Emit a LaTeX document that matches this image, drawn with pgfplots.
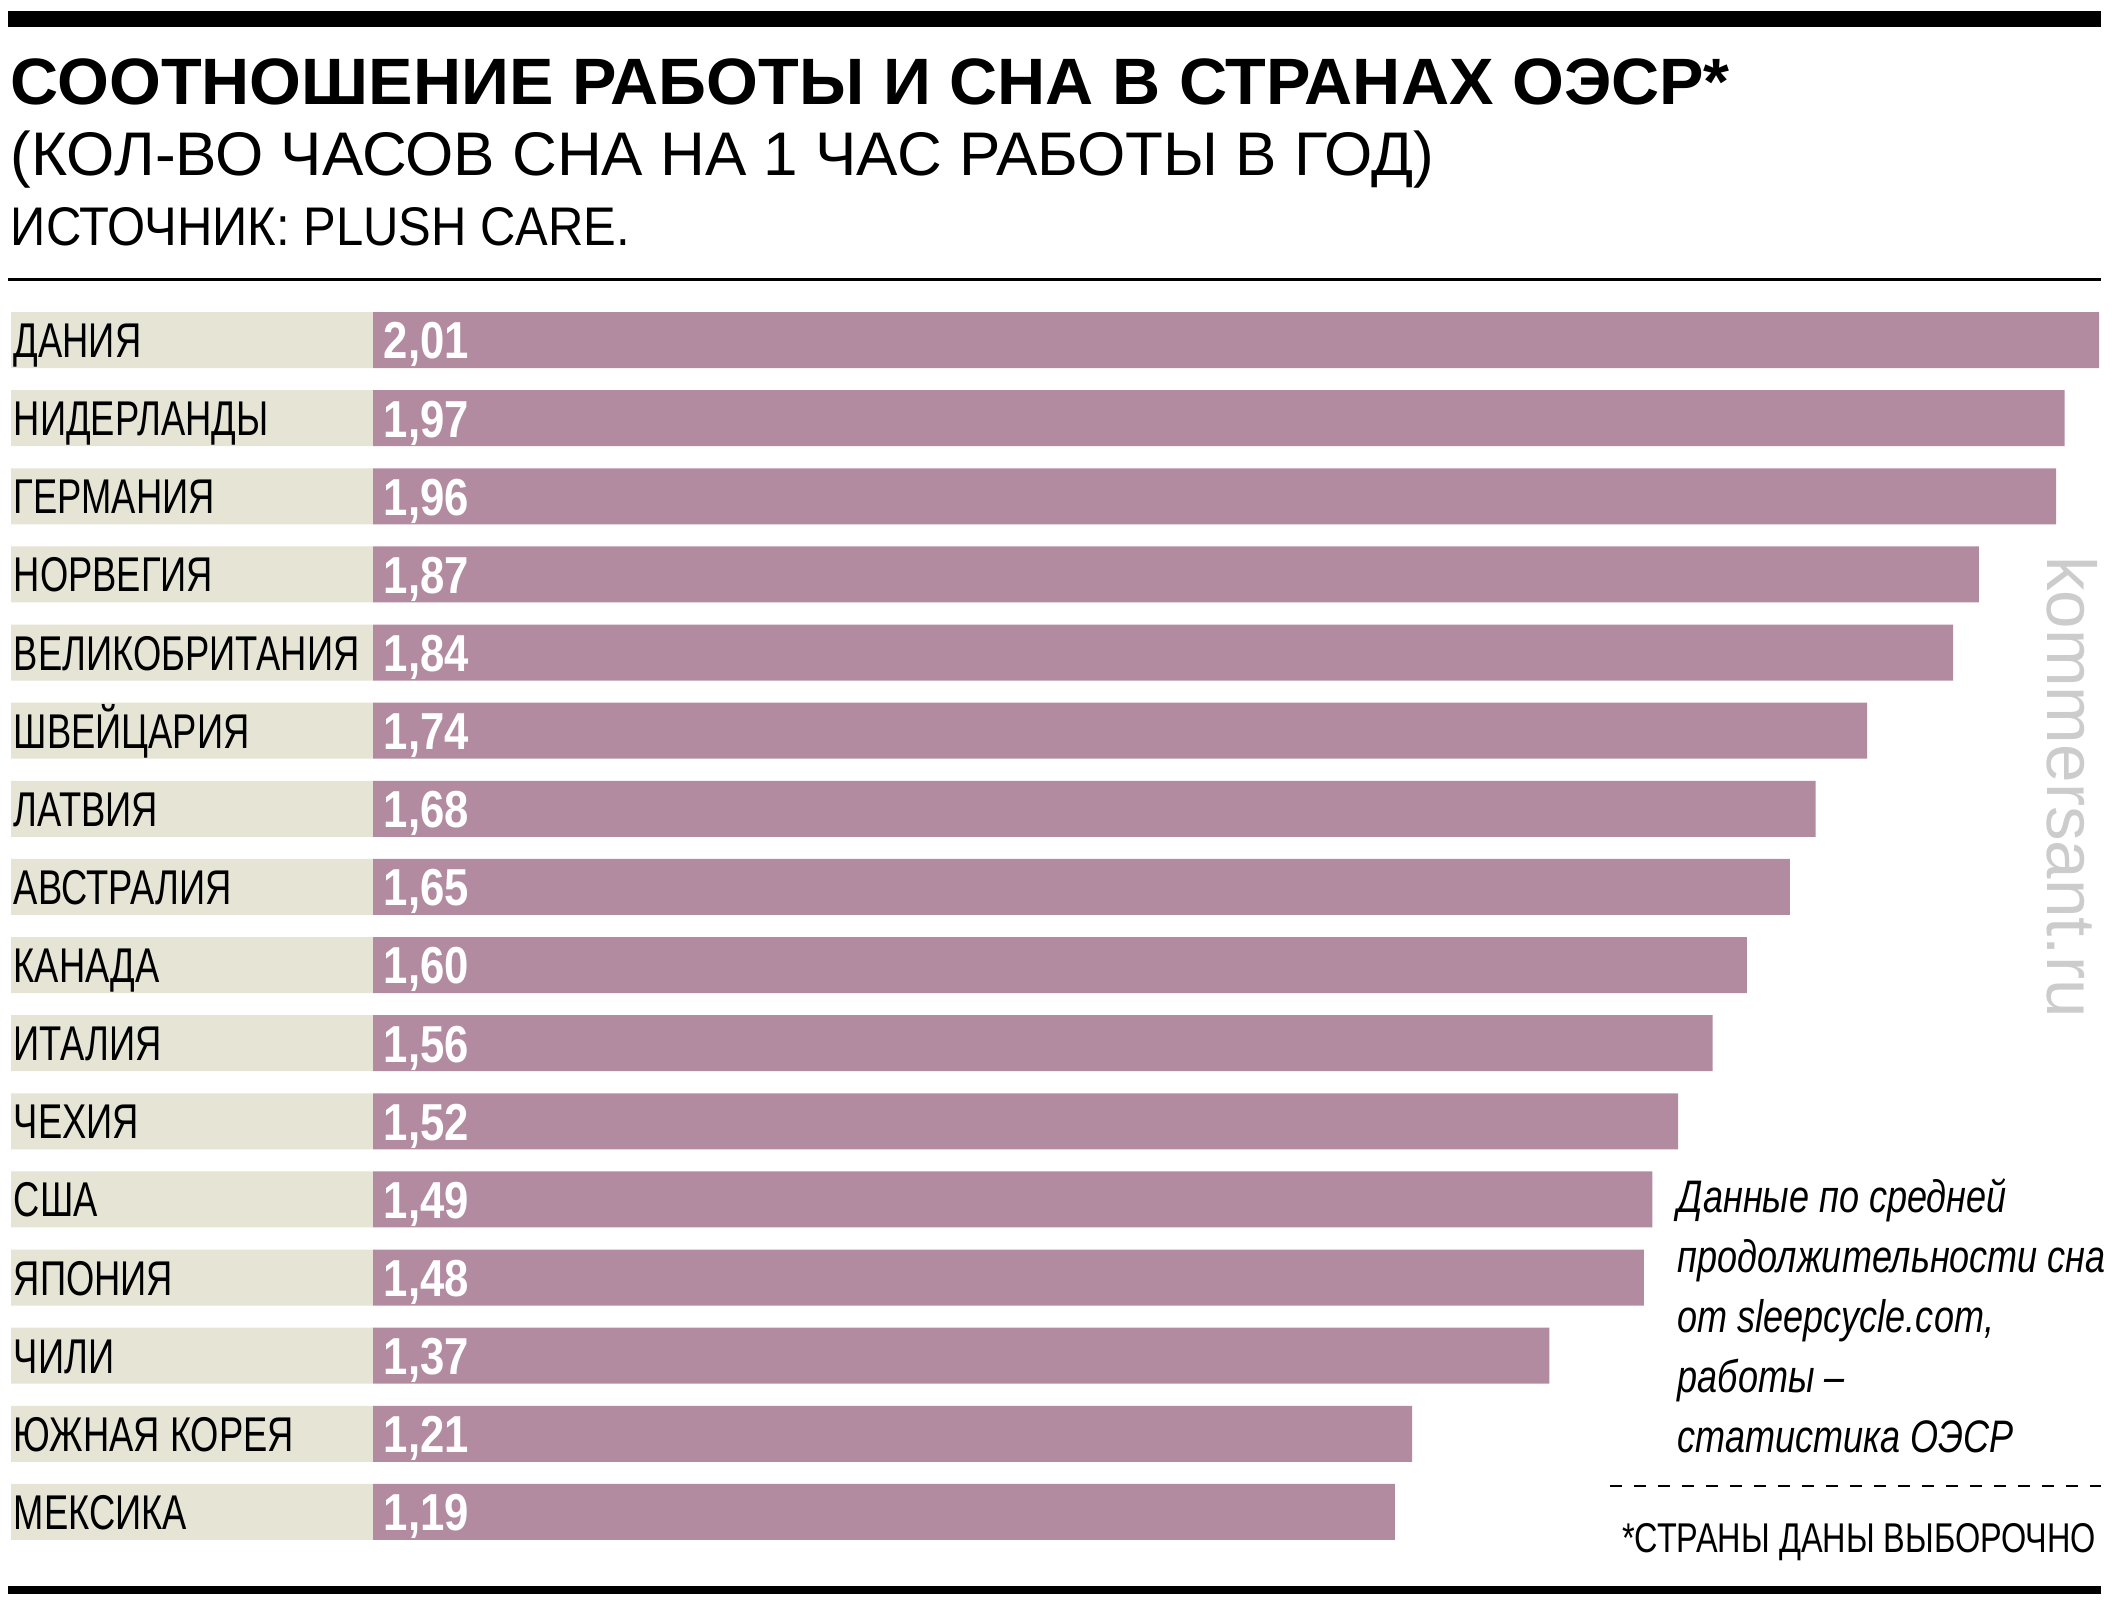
\documentclass[border=0pt]{standalone}
\usepackage{fontspec}
\setmainfont{Liberation Sans}
\newfontfamily\labfont[FakeStretch=0.745]{Liberation Sans}
\newfontfamily\valfont[FakeStretch=0.84]{Liberation Sans}
\newfontfamily\titfont[FakeStretch=1.016]{Liberation Sans}
\newfontfamily\subfont[FakeStretch=1.007]{Liberation Sans}
\newfontfamily\srcfont[FakeStretch=0.9]{Liberation Sans}
\newfontfamily\notefont[FakeStretch=0.79]{Liberation Sans}
\newfontfamily\footfont[FakeStretch=0.78]{Liberation Sans}
\usepackage{pgfplots}
\pgfplotsset{compat=1.18}
\usepackage{pgfplotstable}
\definecolor{barc}{RGB}{179,139,161}
\definecolor{beige}{RGB}{230,228,212}
\definecolor{wm}{RGB}{204,204,204}
\pgfplotstableread[col sep=semicolon]{
idx;val;name
0;2.01;ДАНИЯ
1;1.97;НИДЕРЛАНДЫ
2;1.96;ГЕРМАНИЯ
3;1.87;НОРВЕГИЯ
4;1.84;ВЕЛИКОБРИТАНИЯ
5;1.74;ШВЕЙЦАРИЯ
6;1.68;ЛАТВИЯ
7;1.65;АВСТРАЛИЯ
8;1.60;КАНАДА
9;1.56;ИТАЛИЯ
10;1.52;ЧЕХИЯ
11;1.49;США
12;1.48;ЯПОНИЯ
13;1.37;ЧИЛИ
14;1.21;ЮЖНАЯ КОРЕЯ
15;1.19;МЕКСИКА
}\data
\begin{document}
\begin{tikzpicture}
\path[use as bounding box] (0,0) rectangle (528pt,-401.5pt);
\fill[black] (2pt,-2.75pt) rectangle (525.25pt,-6.75pt);
\node[anchor=base west, inner sep=0] at (2.5pt,-26.25pt) {\fontsize{16.4}{18}\titfont\bfseries СООТНОШЕНИЕ РАБОТЫ И СНА В СТРАНАХ ОЭСР*};
\node[anchor=base west, inner sep=0] at (2.5pt,-43.75pt) {\fontsize{15.4}{18}\subfont (КОЛ-ВО ЧАСОВ СНА НА 1 ЧАС РАБОТЫ В ГОД)};
\node[anchor=base west, inner sep=0] at (2.5pt,-61.25pt) {\fontsize{13.6}{16}\srcfont ИСТОЧНИК: PLUSH CARE.};
\draw[line width=0.75pt] (2pt,-69.75pt) -- (525.25pt,-69.75pt);
\begin{axis}[at={(2.75pt,-75.25pt)}, anchor=north west, scale only axis,
  width=522pt, height=312.5pt, xmin=-0.4216, xmax=2.01, ymin=-0.5, ymax=15.5,
  y dir=reverse, hide axis, clip=false,
  /pgf/number format/assume math mode=true]
\addplot[xbar, bar width=14pt, bar shift=0pt, fill=beige, draw=none] table[x expr=-0.4216, y=idx]{\data};
\addplot[xbar, bar width=14pt, bar shift=0pt, fill=barc, draw=none] table[x=val, y=idx]{\data};
\addplot[draw=none, mark=none, nodes near coords, point meta=explicit symbolic,
  every node near coord/.append style={anchor=west, inner sep=0pt, xshift=0.5pt, text=black,
    font=\fontsize{12.2}{12.2}\labfont, text height=8.75pt, text depth=0pt}]
  table[x expr=-0.4216, y=idx, meta=name]{\data};
\addplot[draw=none, mark=none,
  nodes near coords={\pgfmathprintnumber[fixed,fixed zerofill,precision=2,use comma,assume math mode=true]{\pgfplotspointmeta}},
  point meta=\thisrow{val},
  every node near coord/.append style={anchor=west, inner sep=0pt, xshift=2.5pt, text=white,
    font=\fontsize{13}{13}\valfont\bfseries, text height=9.4pt, text depth=0pt}]
  table[x expr=0, y=idx]{\data};
\end{axis}
\node[rotate=-90, text=wm, inner sep=0, font=\fontsize{17.3}{17}\selectfont] at (518pt,-196.75pt) {kommersant.ru};
\foreach \t [count=\i from 0] in {Данные по средней, продолжительности сна, от sleepcycle.com{,}, работы –, статистика ОЭСР}{
  \node[anchor=base west, inner sep=0, font=\fontsize{11.4}{15}\notefont\itshape] at (419.25pt,{-303pt-15pt*\i}) {\t};
}
\draw[line width=0.5pt, dash pattern=on 3pt off 3pt] (402.5pt,-371.5pt) -- (525.25pt,-371.5pt);
\node[anchor=base east, inner sep=0, font=\fontsize{10.4}{12}\footfont] at (524.25pt,-388pt) {*СТРАНЫ ДАНЫ ВЫБОРОЧНО};
\fill[black] (2pt,-396.5pt) rectangle (525.25pt,-398.5pt);
\end{tikzpicture}
\end{document}
